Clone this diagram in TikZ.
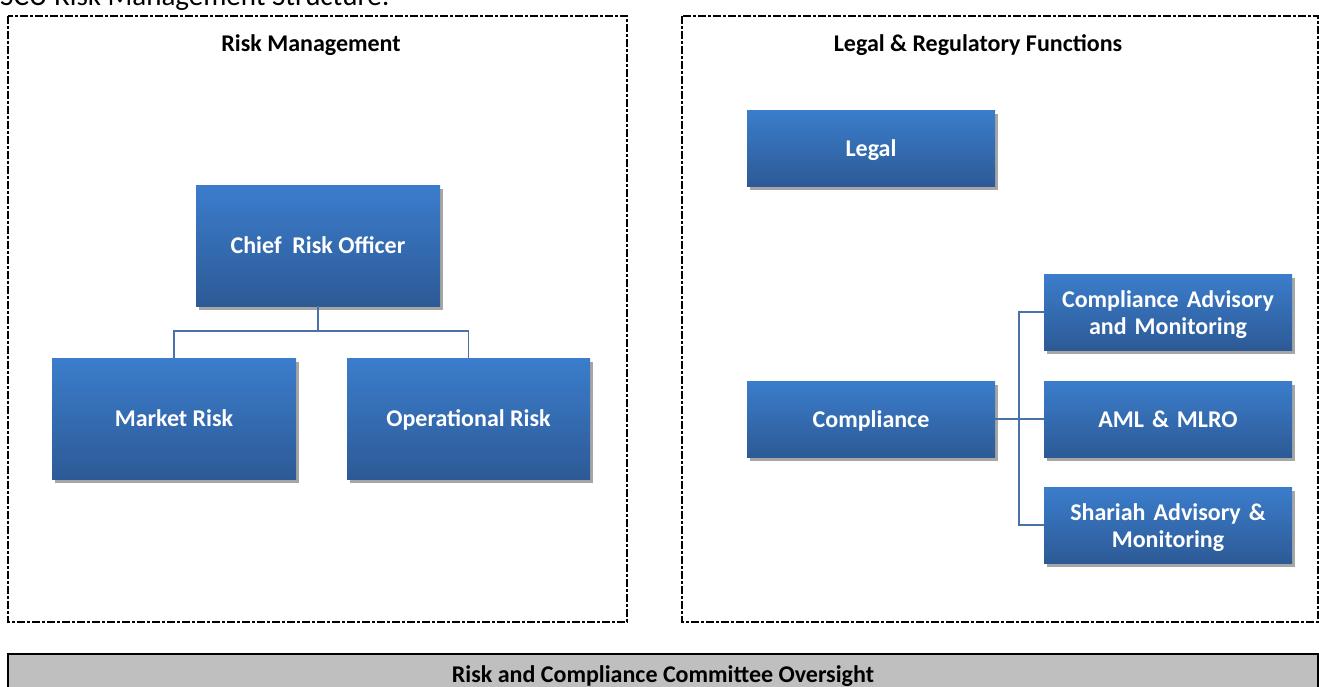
\documentclass[tikz,border=0pt]{standalone}
\usepackage{fontspec}
\setmainfont{Carlito}
\usetikzlibrary{shadows}

\definecolor{boxtop}{HTML}{3B7DCC}
\definecolor{boxbot}{HTML}{2D5A96}
\definecolor{linkcol}{HTML}{4A72A6}
\definecolor{barfill}{HTML}{BFBFBF}

\tikzset{
    unit/.style={rectangle, top color=boxtop, bottom color=boxbot,
        text=white, font=\fontsize{24}{27}\selectfont\bfseries, align=center,
        inner sep=2pt, text height=18pt, text depth=2pt,
        drop shadow={shadow xshift=3pt, shadow yshift=-4pt, fill=black, opacity=0.35}},
    bigunit/.style={unit, minimum width=244pt, minimum height=121pt},
    smallunit/.style={unit, minimum width=248pt, minimum height=76pt, text width=240pt},
    twoline/.style={text height=, text depth=},
    link/.style={draw=linkcol, line width=1.5pt},
    frame/.style={line width=1.3pt, dash pattern=on 8pt off 2pt on 3pt off 2pt},
    heading/.style={font=\fontsize{24}{27}\selectfont\bfseries}
}

\begin{document}
\begin{tikzpicture}[x=1pt, y=-1pt]
    \useasboundingbox (0,0) rectangle (1319,686);
    % page caption, cut at the top edge
    \node[anchor=base west, inner sep=0pt, font=\fontsize{29}{32}\selectfont] (caption) at (0,5) {SCU Risk Management Structure:};

    % left panel
    \draw [frame] (8,16) rectangle (627,622);
    \node[heading] (rmhead) at (311,45) {Risk Management};
    \node[bigunit] (cro) at (318,245.5) {Chief~~Risk Officer};
    \node[bigunit] (market) at (174,418.5) {Market Risk};
    \node[bigunit, minimum width=243pt] (oprisk) at (468.5,418.5) {Operational Risk};
    \draw [link] (cro.south) -- ++(0,25) -| (market.north);
    \draw [link] (cro.south) -- ++(0,25) -| (oprisk.north);

    % right panel
    \draw [frame] (682,16) rectangle (1318,622);
    \node[heading] (lrhead) at (978,45) {Legal \& Regulatory Functions};
    \node[smallunit] (legal) at (871,148) {Legal};
    \node[smallunit] (compl) at (871,419) {Compliance};
    \node[smallunit, twoline] (advisory) at (1168,312) {\rule{0pt}{22pt}Compliance Advisory\\and Monitoring};
    \node[smallunit] (aml) at (1168,419) {AML \& MLRO};
    \node[smallunit, twoline] (shariah) at (1168,525) {\rule{0pt}{22pt}Shariah Advisory \&\\Monitoring};
    \draw [link] (compl.east) -- ++(24,0) |- (advisory.west);
    \draw [link] (compl.east) -- (aml.west);
    \draw [link] (compl.east) -- ++(24,0) |- (shariah.west);

    % oversight bar
    \draw [line width=2pt, fill=barfill] (8,654) rectangle (1318,700);
    \node[heading] (oversight) at (663,676) {Risk and Compliance Committee Oversight};
\end{tikzpicture}
\end{document}
